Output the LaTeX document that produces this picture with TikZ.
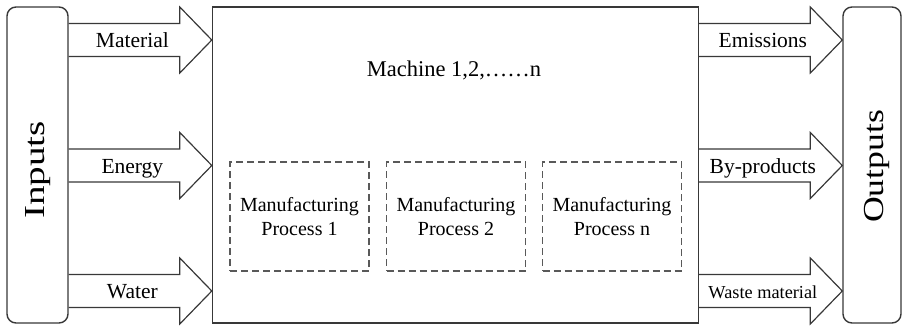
\documentclass[tikz,border=0pt]{standalone}
\usepackage{fontspec}
\setmainfont{Liberation Serif}
\usetikzlibrary{calc, positioning}
\colorlet{linecol}{black!78}
\colorlet{dashcol}{black!65}

\begin{document}
\begin{tikzpicture}[x=1pt, y=-1pt,
      sidebox/.style  = {draw=linecol, line width=1.4pt, rounded corners=9pt,
                         minimum height=316pt, inner sep=0pt},
      mainbox/.style  = {draw=linecol, line width=1.4pt, minimum width=486pt,
                         minimum height=316pt, inner sep=0pt},
      procbox/.style  = {draw=dashcol, line width=1.2pt, dash pattern=on 7pt off 4pt,
                         minimum width=139pt, minimum height=109pt, align=center,
                         font=\fontsize{20}{24}\selectfont},
      sidetext/.style = {font=\fontsize{29}{32}\selectfont, inner sep=0pt},
      lbl/.style      = {font=\fontsize{21.5}{24}\selectfont, inner sep=0pt,
                         text height=15pt, text depth=4.7pt, yshift=-2.5pt},
      flow/.style     = {draw=linecol, line width=1.2pt, line join=miter,
                         to path={let \p1=(\tikztostart), \p2=(\tikztotarget) in
                           (\x1,\y1+16.5pt) -- (\x2-32pt,\y1+16.5pt)
                           -- (\x2-32pt,\y1+33pt) -- (\x2,\y1)
                           -- (\x2-32pt,\y1-33pt) -- (\x2-32pt,\y1-16.5pt)
                           -- (\x1,\y1-16.5pt)}}
    ]

    \useasboundingbox (0,0) rectangle (905,327);

    % rows of the flows
    \coordinate (r1) at (0,40);
    \coordinate (r2) at (0,165.5);
    \coordinate (r3) at (0,291);

    \node[sidebox, minimum width=61pt] (inputs)  at (37.5,165) {};
    \node[mainbox]                     (machine) at (455.5,165) {};
    \node[sidebox, minimum width=58pt] (outputs) at (872,165) {};

    \node[sidetext, yscale=1.35, rotate=90] (intext)  at (38.5,170) {Inputs};
    \node[sidetext, yscale=1.23, rotate=90] (outtext) at (877,166.5) {Outputs};

    \node[font=\fontsize{22.5}{26}\selectfont] (mach) at (454,70) {Machine 1,2,……n};

    \node[procbox] (proc1) at (299.5,216.5) {Manufacturing\\Process 1};
    \node[procbox] (proc2) at (456,216.5)   {Manufacturing\\Process 2};
    \node[procbox] (procn) at (612,216.5)   {Manufacturing\\Process n};

    % inputs
    \draw[flow] (inputs.east |- r1) to (machine.west |- r1);
    \draw[flow] (inputs.east |- r2) to (machine.west |- r2);
    \draw[flow] (inputs.east |- r3) to (machine.west |- r3);
    \node[lbl] (material) at ($(inputs.east |- r1)!.445!(machine.west |- r1)$) {Material};
    \node[lbl] (energy)   at ($(inputs.east |- r2)!.445!(machine.west |- r2)$) {Energy};
    \node[lbl] (water)    at ($(inputs.east |- r3)!.445!(machine.west |- r3)$) {Water};

    % outputs
    \draw[flow] (machine.east |- r1) to (outputs.west |- r1);
    \draw[flow] (machine.east |- r2) to (outputs.west |- r2);
    \draw[flow] (machine.east |- r3) to (outputs.west |- r3);
    \node[lbl] (emis)  at ($(machine.east |- r1)!.445!(outputs.west |- r1)$) {Emissions};
    \node[lbl] (byprd) at ($(machine.east |- r2)!.445!(outputs.west |- r2)$) {By-products};
    \node[lbl, font=\fontsize{18.3}{22}\selectfont]
               (waste) at ($(machine.east |- r3)!.445!(outputs.west |- r3)$) {Waste material};
  \end{tikzpicture}
\end{document}
